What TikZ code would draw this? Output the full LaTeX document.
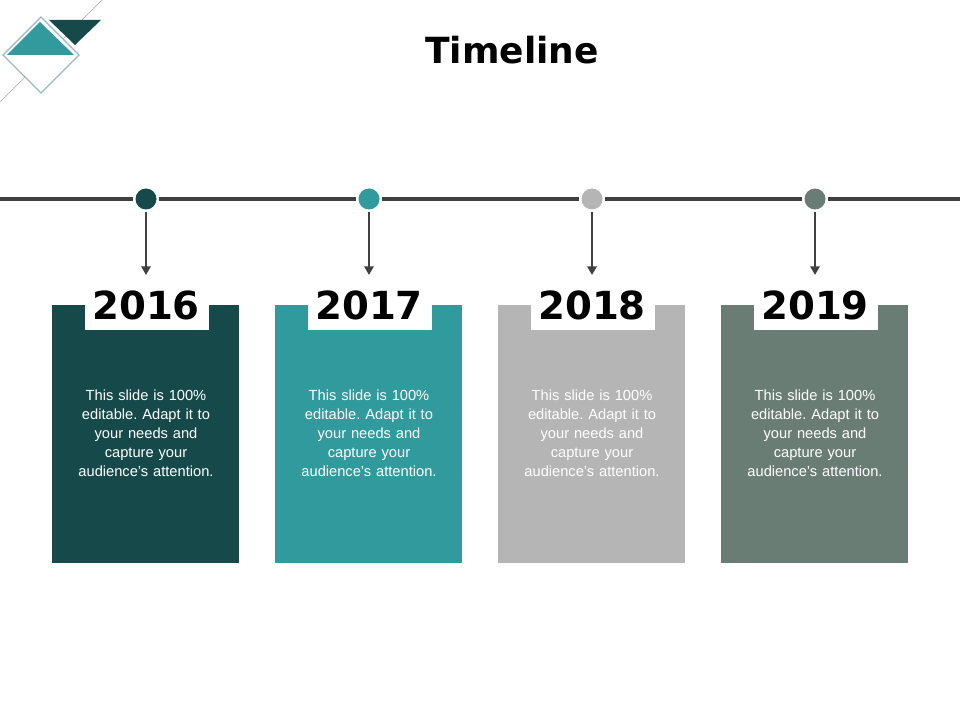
\documentclass[tikz,border=0pt]{standalone}
\usepackage{fontspec}
\setmainfont{Liberation Sans}
\newfontfamily\headfont{DejaVu Sans}
\usetikzlibrary{arrows.meta}
\definecolor{cA}{HTML}{164A4A}
\definecolor{cB}{HTML}{319A9C}
\definecolor{cC}{HTML}{B5B5B5}
\definecolor{cD}{HTML}{6A7D74}
\definecolor{lineC}{HTML}{404040}
\begin{document}
\frenchspacing
\begin{tikzpicture}[x=0.75pt,y=-0.75pt,
  dot/.style={circle,inner sep=0pt,minimum size=21*0.75pt},
  yearbox/.style={fill=white,inner sep=0pt,minimum width=124*0.75pt,minimum height=26*0.75pt},
  yeartxt/.style={font=\headfont\bfseries\fontsize{29}{30}\selectfont,inner sep=0pt},
  bodytxt/.style={font=\fontsize{11}{14.25}\selectfont,text=white,align=center,text width=150*0.75pt,inner sep=0pt},
  arr/.style={lineC,line width=2.2pt,-{Triangle[length=6.5pt,width=7pt]}},
  tl/.style={lineC,line width=2.3pt}]
\useasboundingbox (0,0) rectangle (960,720);
% logo
\draw[gray!70,line width=0.5pt] (0,102) -- (102,0);
\fill[cA] (49,20) -- (101,20) -- (75,45) -- cycle;
\fill[white] (41,17) -- (79,55) -- (41,93) -- (3,55) -- cycle;
\draw[cB!55!gray!60,line width=1pt] (41,17) -- (79,55) -- (41,93) -- (3,55) -- cycle;
\fill[cB] (40,22) -- (74,55) -- (7,55) -- cycle;
% title
\node[font=\headfont\bfseries\fontsize{27}{30}\selectfont] (title) at (512,50) {Timeline};
% timeline
\coordinate (L) at (0,199);
\coordinate (R) at (960,199);
\node[dot,fill=cA] (d1) at (146,199) {};
\node[dot,fill=cB] (d2) at (369,199) {};
\node[dot,fill=cC] (d3) at (592,199) {};
\node[dot,fill=cD] (d4) at (815,199) {};
\draw[tl] (L) -- ([xshift=-2pt]d1.west) ([xshift=2pt]d1.east) -- ([xshift=-2pt]d2.west) ([xshift=2pt]d2.east) -- ([xshift=-2pt]d3.west) ([xshift=2pt]d3.east) -- ([xshift=-2pt]d4.west) ([xshift=2pt]d4.east) -- (R);
\foreach \i/\x/\c/\y in {1/146/cA/2016,2/369/cB/2017,3/592/cC/2018,4/815/cD/2019}{
  \fill[\c] (\x-94,305) rectangle (\x+93,563);
  \node[yearbox] (yb\i) at (\x+0.5,317) {};
  \node[yeartxt] (y\i) at (\x,305) {\y};
  \node[bodytxt] (t\i) at (\x,433) {This slide is 100\%\\editable. Adapt it to\\your needs and\\capture your\\audience's attention.};
  \coordinate (a\i) at (\x,275);
  \draw[arr] ([yshift=-2pt]d\i.south) -- (a\i);
}
\end{tikzpicture}
\end{document}
